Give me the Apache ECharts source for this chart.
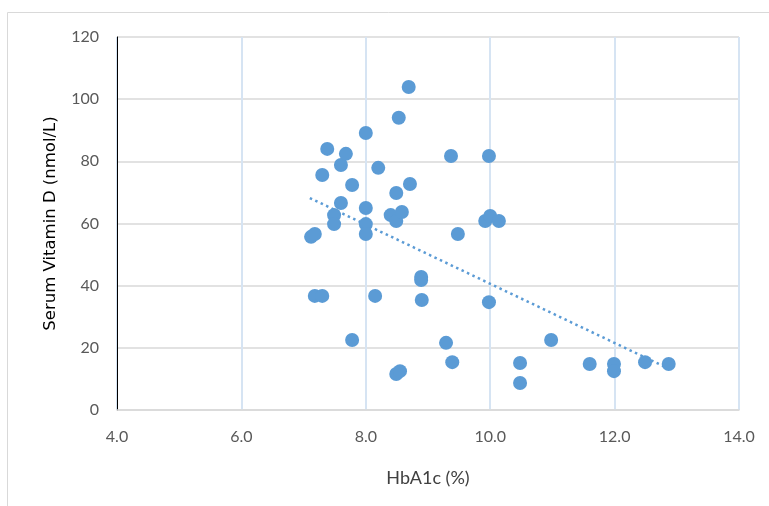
<!DOCTYPE html>
<html>
<head>
<meta charset="utf-8">
<script src="https://cdn.jsdelivr.net/npm/echarts@6/dist/echarts.min.js"></script>
<style>html,body{margin:0;padding:0;background:#fff}#c{width:769px;height:506px}</style>
</head>
<body>
<div id="c"></div>
<script>
var hba1c = [7.12,7.18,7.18,7.30,7.30,7.38,7.49,7.49,7.60,7.60,7.68,7.78,7.78,8.00,8.00,8.00,8.00,8.15,8.20,8.40,8.49,8.49,8.53,8.58,8.69,8.71,8.49,8.55,8.89,8.89,8.90,9.29,9.37,9.39,9.48,9.92,10.00,10.14,9.98,9.98,10.48,10.48,10.98,11.60,11.99,11.99,12.49,12.87];
var vitD  = [55.7,56.6,36.7,36.7,75.6,84.0,62.7,59.8,66.6,78.8,82.4,72.4,22.5,89.1,65.0,59.8,56.6,36.7,77.9,62.7,69.8,60.8,94.0,63.7,103.9,72.7,11.6,12.5,42.8,41.8,35.4,21.6,81.7,15.4,56.6,60.8,62.4,60.8,81.7,34.7,15.1,8.7,22.5,14.8,14.8,12.5,15.4,14.8];
var trendX = [7.1, 12.88];
var trendY = [68.2, 13.2];
var xTicks = [4, 14, 2];
var yTicks = [0, 120, 20];

var pts = hba1c.map(function(x,i){return [x, vitD[i]];});
var trend = trendX.map(function(x,i){return [x, trendY[i]];});

var chart = echarts.init(document.getElementById('c'));
chart.setOption({
  animation:false,
  graphic:[{type:'polyline',shape:{points:[[7.5,506],[7.5,12.5],[769,12.5]]},style:{stroke:'#d9d9d9',lineWidth:1,fill:null}}],
  grid:{left:117,right:30,top:37,bottom:96},
  xAxis:{type:'value',min:xTicks[0],max:xTicks[1],interval:xTicks[2],
    name:'HbA1c (%)',nameLocation:'middle',nameGap:59,
    nameTextStyle:{color:'#404040',fontSize:18,fontFamily:'Lato'},
    axisLine:{show:true,onZero:false,lineStyle:{color:'#d9d9d9',width:1.5}},
    axisTick:{show:false},
    axisLabel:{color:'#595959',fontSize:16,fontFamily:'Lato',margin:19,formatter:function(v){return v.toFixed(1);}},
    splitLine:{show:true,lineStyle:{color:'#d6e4f3',width:2}}},
  yAxis:{type:'value',min:yTicks[0],max:yTicks[1],interval:yTicks[2],
    name:'Serum Vitamin D (nmol/L)',nameLocation:'middle',nameGap:58,
    nameTextStyle:{color:'#000',fontSize:16.5,fontFamily:'DejaVu Sans'},
    axisLine:{show:true,lineStyle:{color:'#000',width:1}},
    axisTick:{show:false},
    axisLabel:{color:'#595959',fontSize:16,fontFamily:'Lato',margin:18},
    splitLine:{show:true,lineStyle:{color:'#d9d9d9',width:1.5}}},
  series:[
    {type:'scatter',data:pts,symbolSize:14,itemStyle:{color:'#5b9bd5',opacity:1},z:3},
    {type:'line',data:trend,symbol:'none',lineStyle:{color:'#5b9bd5',width:2.5,type:[2.5,3.5]},z:2}
  ]
});
</script>
</body>
</html>
